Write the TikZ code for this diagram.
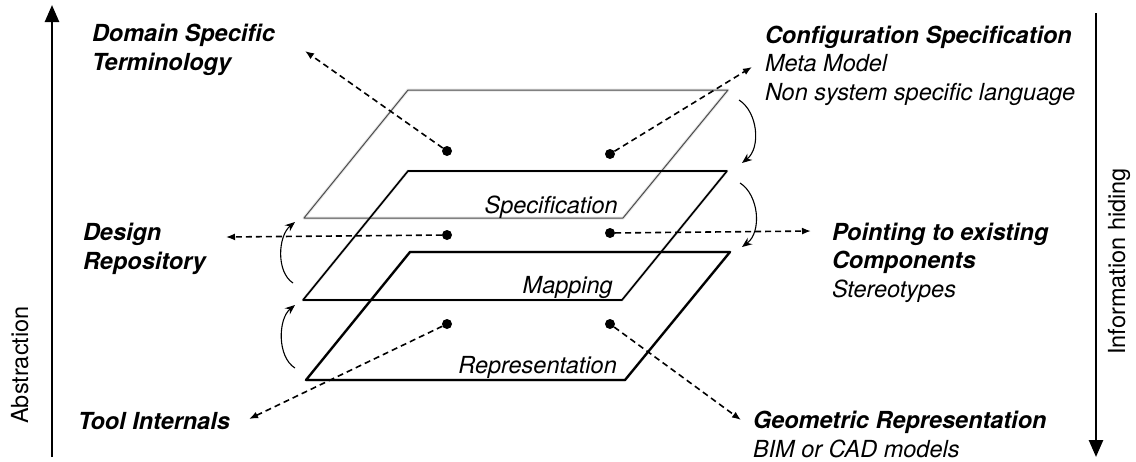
\documentclass[tikz,border=0pt]{standalone}
\usepackage{fontspec}
\setmainfont{TeX Gyre Heros}
\usetikzlibrary{arrows.meta}

\begin{document}
\begin{tikzpicture}[x=1pt,y=-1pt,
  every node/.style={font=\fontsize{23.5}{28.5}\selectfont},
  lbl/.style={anchor=base west,align=left,inner sep=0pt,outer sep=0pt},
  head/.style={font=\fontsize{23.5}{28.5}\selectfont\bfseries\itshape},
  plabel/.style={anchor=base east,inner sep=0pt,font=\fontsize{23.5}{28.5}\selectfont\itshape},
  dot/.style={circle,fill=black,inner sep=0pt,minimum size=10pt},
  pointer/.style={dash pattern=on 6pt off 4pt,line width=1.6pt,-{Latex[length=9pt,width=7pt]}},
  turn/.style={line width=1.1pt,-{Stealth[length=10pt,width=8pt]}},
  axis/.style={line width=2.6pt,-{Triangle[length=17pt,width=14pt]}},
  shade/.style={line width=3pt,black!10,line join=round},
  layer/.style={line join=round}
]
\useasboundingbox (0,0) rectangle (1136,461);

% corners of the three layers
\coordinate (sa) at (408,90);  \coordinate (sb) at (728,90);
\coordinate (sc) at (623,218); \coordinate (sd) at (304,218);
\coordinate (ma) at (408,171); \coordinate (mb) at (727,171);
\coordinate (mc) at (622,300); \coordinate (md) at (303,300);
\coordinate (ra) at (410,252); \coordinate (rb) at (730,252);
\coordinate (rc) at (625,380); \coordinate (rd) at (306,380);

% soft shadows under the layers
\begin{scope}[shift={(2,2.5)}]
  \draw[shade] (sa) -- (sb) -- (sc) -- (sd) -- cycle;
  \draw[shade] (ma) -- (mb) -- (mc) -- (md) -- cycle;
  \draw[shade] (ra) -- (rb) -- (rc) -- (rd) -- cycle;
\end{scope}

% the layers
\draw[layer,line width=1pt,black!70] (sa) -- (sb) -- (sc) -- (sd) -- cycle;
\draw[layer,line width=1.6pt] (ma) -- (mb) -- (mc) -- (md) -- cycle;
\draw[layer,line width=2.3pt] (ra) -- (rb) -- (rc) -- (rd) -- cycle;

\node[plabel] (lspec) at (618,213) {Specification};
\node[plabel] (lmap)  at (613,293) {Mapping};
\node[plabel] (lrep)  at (617,373) {Representation};

% anchor dots
\node[dot] (d1) at (447,151) {};
\node[dot] (d2) at (610,154) {};
\node[dot] (d3) at (447,235) {};
\node[dot] (d4) at (610,233) {};
\node[dot] (d5) at (447,324) {};
\node[dot] (d6) at (610,324) {};

% end points of the pointers
\coordinate (t1) at (305,51);
\coordinate (t2) at (752,67);
\coordinate (t3) at (226,237);
\coordinate (t4) at (811,231);
\coordinate (t5) at (249,419);
\coordinate (t6) at (741,420);

\draw[pointer] (d1) -- (t1);
\draw[pointer] (d2) -- (t2);
\draw[pointer] (d3) -- (t3);
\draw[pointer] (d4) -- (t4);
\draw[pointer] (d5) -- (t5);
\draw[pointer] (d6) -- (t6);

% labels (placed by the baseline of their last line)
\node[lbl,head] (dst) at (92,70) {Domain Specific\\Terminology};
\node[lbl] (cfg) at (765,100) {\textbf{\textit{Configuration Specification}}\\\textit{Meta Model}\\\textit{Non system specific language}};
\node[lbl,head] (drp) at (83,269) {Design\\Repository};
\node[lbl] (pec) at (832,297) {\textbf{\textit{Pointing to existing}}\\\textbf{\textit{Components}}\\\textit{Stereotypes}};
\node[lbl,head] (tin) at (78,429) {Tool Internals};
\node[lbl] (geo) at (753,457) {\textbf{\textit{Geometric Representation}}\\\textit{BIM or CAD models}};

% curved transitions between layers
\coordinate (r1s) at (739,100); \coordinate (r1e) at (742,163);
\coordinate (r2s) at (740,183); \coordinate (r2e) at (742,247);
\coordinate (l1s) at (293,283); \coordinate (l1e) at (295,222);
\coordinate (l2s) at (295,368); \coordinate (l2e) at (295,305);
\draw[turn] (r1s) .. controls (758,112) and (761,148) .. (r1e);
\draw[turn] (r2s) .. controls (759,195) and (762,232) .. (r2e);
\draw[turn] (l1s) .. controls (276,272) and (278,236) .. (l1e);
\draw[turn] (l2s) .. controls (277,357) and (278,319) .. (l2e);

% side axes
\coordinate (ab0) at (52,457); \coordinate (ab1) at (52,5);
\coordinate (ih0) at (1096,13); \coordinate (ih1) at (1096,457);
\draw[axis] (ab0) -- (ab1);
\draw[axis] (ih0) -- (ih1);
\node[anchor=base west,inner sep=0pt,rotate=90] (abs) at (28,424) {Abstraction};
\node[anchor=base west,inner sep=0pt,rotate=90] (inf) at (1125,355) {Information hiding};
\end{tikzpicture}
\end{document}
